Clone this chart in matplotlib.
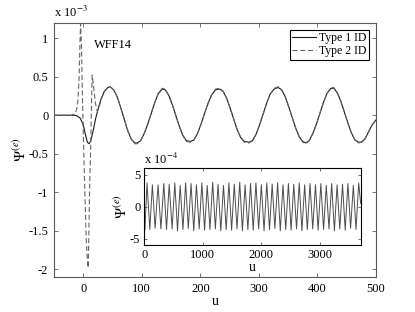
import matplotlib
matplotlib.use("Agg")
import matplotlib.pyplot as plt

# Main panel, Psi values in units of 1e-3
u_type1 = [-50, -15, -10, -5, 0, 4, 7, 10, 13, 17, 21, 25, 30, 36, 42, 46, 52, 58, 64,
           70, 76, 82, 88, 92, 98, 104, 110, 116, 122, 128, 135, 140, 146, 152, 158,
           164, 170, 176, 183, 189, 195, 201, 207, 213, 219, 226, 233, 239, 245, 251,
           257, 263, 269, 275, 283, 289, 295, 301, 307, 313, 319, 326, 333, 339, 345,
           351, 357, 363, 369, 375, 380, 386, 392, 398, 404, 410, 416, 423, 428, 434,
           440, 446, 452, 458, 464, 470, 475, 481, 487, 493, 500]
psi_type1 = [0, 0, -0.01, -0.04, -0.12, -0.26, -0.35, -0.37, -0.33, -0.2, -0.05, 0.07,
             0.2, 0.31, 0.36, 0.37, 0.33, 0.24, 0.1, -0.05, -0.2, -0.31, -0.36, -0.36,
             -0.33, -0.24, -0.12, 0.02, 0.16, 0.28, 0.34, 0.33, 0.26, 0.14, 0.0, -0.14,
             -0.26, -0.33, -0.34, -0.32, -0.24, -0.12, 0.02, 0.15, 0.26, 0.33, 0.34,
             0.31, 0.22, 0.09, -0.05, -0.19, -0.29, -0.34, -0.35, -0.33, -0.25, -0.13,
             0.01, 0.15, 0.27, 0.34, 0.36, 0.33, 0.24, 0.11, -0.03, -0.17, -0.28, -0.34,
             -0.36, -0.33, -0.24, -0.12, 0.02, 0.16, 0.28, 0.35, 0.35, 0.29, 0.18, 0.04,
             -0.1, -0.23, -0.32, -0.35, -0.35, -0.31, -0.22, -0.13, -0.06]

u_type2 = [-50, -20, -14, -11, -9, -7, -5.5, -4.5, -3, -1.5, 0, 1, 3, 5, 7, 8.5, 9.5,
           11, 12.5, 14, 15.2, 17, 19, 21, 24, 27, 30, 36, 42, 46, 52, 58, 64, 70, 76,
           82, 88, 92, 98, 104, 110, 116, 122, 128, 135, 140, 146, 152, 158, 164, 170,
           176, 183, 189, 195, 201, 207, 213, 219, 226, 233, 239, 245, 251, 257, 263,
           269, 275, 283, 289, 295, 301, 307, 313, 319, 326, 333, 339, 345, 351, 357,
           363, 369, 375, 380, 386, 392, 398, 404, 410, 416, 423, 428, 434, 440, 446,
           452, 458, 464, 470, 475, 481, 487, 493, 500]
psi_type2 = [0, 0, 0.02, 0.08, 0.2, 0.5, 0.95, 1.19, 0.9, 0.3, -0.2, -0.5, -1.05,
             -1.58, -1.88, -1.98, -1.58, -0.9, -0.5, 0.1, 0.52, 0.42, 0.28, 0.15, 0.05,
             0.1, 0.19, 0.31, 0.36, 0.37, 0.33, 0.24, 0.1, -0.05, -0.2, -0.31, -0.37,
             -0.37, -0.33, -0.24, -0.12, 0.02, 0.16, 0.28, 0.35, 0.34, 0.26, 0.14, 0.0,
             -0.14, -0.26, -0.34, -0.35, -0.32, -0.24, -0.12, 0.02, 0.15, 0.26, 0.34,
             0.35, 0.31, 0.22, 0.09, -0.05, -0.19, -0.29, -0.35, -0.36, -0.33, -0.25,
             -0.13, 0.01, 0.15, 0.27, 0.35, 0.37, 0.33, 0.24, 0.11, -0.03, -0.17, -0.28,
             -0.35, -0.37, -0.33, -0.24, -0.12, 0.02, 0.16, 0.28, 0.36, 0.36, 0.29,
             0.18, 0.04, -0.1, -0.23, -0.32, -0.36, -0.35, -0.31, -0.22, -0.13, -0.06]

# Inset: long record, extrema only (units of 1e-4)
u_long = [0, 8, 45, 92, 136, 183, 233, 282, 332, 378, 424, 474, 520, 566, 612, 659,
          705, 751, 798, 844, 890, 937, 983, 1029, 1075, 1122, 1168, 1214, 1260, 1307,
          1353, 1399, 1446, 1492, 1538, 1584, 1631, 1677, 1723, 1770, 1816, 1862, 1908,
          1955, 2001, 2047, 2094, 2140, 2186, 2232, 2279, 2325, 2371, 2418, 2464, 2510,
          2556, 2603, 2649, 2695, 2742, 2788, 2834, 2880, 2927, 2973, 3019, 3066, 3112,
          3158, 3204, 3251, 3297, 3343, 3390, 3436, 3482, 3528, 3575, 3621, 3667, 3700]
psi_long = [-1.2, -3.7, 3.7, -3.6, 3.4, -3.4, 3.4, -3.5, 3.6, -3.6, 3.5, -3.5, 3.7,
            -3.8, 3.3, -3.6, 3.7, -3.4, 3.6, -3.8, 3.4, -3.5, 3.7, -3.7, 3.3, -3.6, 3.8,
            -3.5, 3.5, -3.8, 3.3, -3.6, 3.7, -3.7, 3.5, -3.5, 3.8, -3.8, 3.4, -3.6, 3.6,
            -3.7, 3.7, -3.5, 3.4, -3.8, 3.7, -3.6, 3.5, -3.4, 3.7, -3.8, 3.4, -3.6, 3.6,
            -3.7, 3.5, -3.5, 3.7, -3.8, 3.4, -3.6, 3.6, -3.5, 3.4, -3.7, 3.6, -3.6, 3.3,
            -3.5, 3.6, -3.8, 3.4, -3.5, 3.5, -3.7, 3.6, -3.4, 3.3, -3.6, 3.7, 0.5]

main_xticks = [0, 100, 200, 300, 400, 500]
main_yticks = [-2, -1.5, -1, -0.5, 0, 0.5, 1]
main_ytick_labels = ["-2", "-1.5", "-1", "-0.5", "0", "0.5", "1"]
inset_xticks = [0, 1000, 2000, 3000]
inset_yticks = [-5, 0, 5]
inset_ytick_labels = ["-5", "0", "5"]

plt.rcParams["font.family"] = ["Liberation Serif", "DejaVu Serif"]
plt.rcParams["mathtext.fontset"] = "stix"
plt.rcParams["font.size"] = 9
plt.rcParams["axes.linewidth"] = 0.8
plt.rcParams["axes.edgecolor"] = "0.35"

fig = plt.figure(figsize=(4.15, 3.12), dpi=100)
ax = fig.add_axes([0.130, 0.112, 0.776, 0.815])

ax.plot(u_type1, psi_type1, color="0.1", lw=0.8, label="Type 1 ID")
ax.plot(u_type2, psi_type2, color="0.4", lw=0.8, ls=(0, (4.5, 2.5)), label="Type 2 ID")
ax.set_xlim(-50, 500)
ax.set_ylim(-2.1, 1.2)
ax.set_xticks(main_xticks)
ax.set_yticks(main_yticks)
ax.set_yticklabels(main_ytick_labels)
ax.tick_params(direction="in", top=True, right=True, length=3, width=0.6,
               color="0.35", labelsize=9, pad=4)
ax.set_xlabel("u", fontsize=10, labelpad=0)
ax.set_ylabel(r"$\Psi^{(e)}$", fontsize=11, labelpad=0)
ax.text(0.0, 1.01, r"x 10$^{-3}$", transform=ax.transAxes, fontsize=9,
        ha="left", va="bottom")
ax.text(18, 0.91, "WFF14", fontsize=9, ha="left", va="center")

leg = ax.legend(loc="upper right", fancybox=False, edgecolor="k", framealpha=1,
                borderaxespad=0.6, handlelength=2.0, handletextpad=0.25,
                borderpad=0.2, labelspacing=0.1, fontsize=8.5)
leg.get_frame().set_linewidth(0.8)

ins = fig.add_axes([0.348, 0.215, 0.521, 0.246])
ins.plot(u_long, psi_long, color="0.3", lw=0.7)
ins.set_xlim(0, 3700)
ins.set_ylim(-6, 6)
ins.set_xticks(inset_xticks)
ins.set_yticks(inset_yticks)
ins.set_yticklabels(inset_ytick_labels)
ins.tick_params(direction="in", top=True, right=True, length=2.5, width=0.6,
                color="0.35", labelsize=9, pad=3)
ins.set_xlabel("u", fontsize=10, labelpad=0)
ins.set_ylabel(r"$\Psi^{(e)}$", fontsize=11, labelpad=0)
ins.text(0.0, 1.01, r"x 10$^{-4}$", transform=ins.transAxes, fontsize=9,
         ha="left", va="bottom")
for sp in ins.spines.values():
    sp.set_edgecolor("k")
    sp.set_linewidth(0.8)

fig.savefig("out.png", dpi=100)
